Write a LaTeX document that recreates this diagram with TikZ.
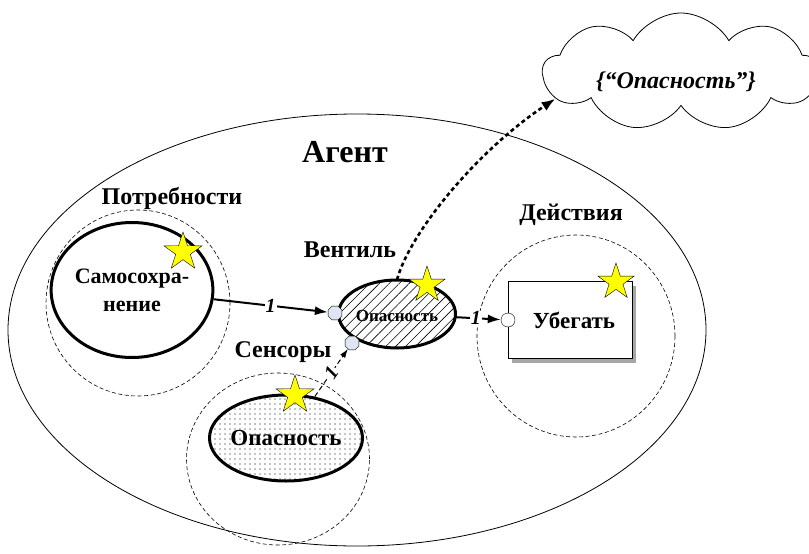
\documentclass[tikz,border=0pt]{standalone}
\usepackage{fontspec}
\setmainfont{Liberation Serif}
\usetikzlibrary{arrows.meta,positioning,shapes.geometric,shapes.symbols,patterns.meta,shadows}
\definecolor{portfill}{RGB}{222,230,242}
\definecolor{starfill}{RGB}{255,255,0}
\tikzset{
  agent/.style={ellipse,draw,line width=0.8pt,minimum width=698pt,minimum height=432pt},
  zone/.style={ellipse,draw,line width=0.6pt,dash pattern=on 4pt off 2.5pt,inner sep=0pt},
  elem/.style={ellipse,draw,line width=3pt,align=center,inner sep=0pt,
    font=\bfseries\fontsize{22}{28}\selectfont},
  lbl/.style={font=\bfseries\fontsize{24}{28}\selectfont},
  starmark/.style={star,star points=5,star point ratio=2.6,draw,fill=starfill,
    minimum size=40pt,inner sep=0pt},
  port/.style={regular polygon,regular polygon sides=8,draw,fill=portfill,
    minimum size=15pt,inner sep=0pt},
  arr/.style={-{Latex[length=13pt,width=9pt]},line width=2pt},
  num/.style={font=\bfseries\itshape\fontsize{20}{24}\selectfont,fill=white,inner sep=1pt},
}

\begin{document}
\begin{tikzpicture}[x=1pt,y=-1pt]
  \useasboundingbox (0,0) rectangle (809,554);
  % agent and its parts
  \node[agent] (agent) at (357,330) {};
  \node[lbl] (agentlbl) at (345,152) {\fontsize{32}{36}\selectfont Агент};
  \node[zone,minimum width=184pt,minimum height=186pt] (needs) at (138,303) {};
  \node[zone,minimum width=183pt,minimum height=172pt] (senses) at (278,459) {};
  \node[zone,minimum width=198pt,minimum height=202pt] (acts) at (576,336) {};
  \node[lbl] (needslbl) at (172,198) {Потребности};
  \node[lbl] (gatelbl) at (350,250) {Вентиль};
  \node[lbl] (senseslbl) at (283,352) {Сенсоры};
  \node[lbl] (actslbl) at (571,215) {Действия};
  % elements
  \node[elem,minimum width=150pt,minimum height=135pt] (self) at (132,290)
    {Самосохра-\\нение};
  \node[elem,minimum width=153pt,minimum height=86pt,
    pattern={Dots[distance=5pt,radius=0.6pt]}] (danger) at (286,438) {};
  \node[lbl,font=\bfseries\fontsize{23}{28}\selectfont] at (danger) {Опасность};
  \node[elem,minimum width=117pt,minimum height=68pt,
    pattern={Lines[angle=45,distance=7pt,line width=0.6pt]}] (gate) at (397,314) {};
  \node[font=\bfseries\fontsize{17}{20}\selectfont] at ([yshift=-2pt]gate.center) {Опасность};
  \node[draw,fill=white,line width=0.8pt,minimum width=124pt,minimum height=77pt,
    lbl,font=\bfseries\fontsize{23}{28}\selectfont,
    drop shadow={shadow xshift=4pt,shadow yshift=-4pt,fill=gray!70,opacity=1}]
    (run) at (570,320) {\hspace*{8pt}Убегать};
  \node[cloud,cloud puffs=9,cloud puff arc=120,aspect=2.3,draw,line width=0.8pt,
    minimum width=276pt,minimum height=118pt] (memo) at (681,72) {};
  \node[font=\bfseries\itshape\fontsize{24}{28}\selectfont] (memotxt) at (676,82)
    {\{“Опасность”\}};
  % ports
  \node[port] (p1) at (335,313) {};
  \node[port] (p2) at (352,343) {};
  \node[circle,draw,fill=white,minimum size=14pt,inner sep=0pt] (p3) at (508,320) {};
  % links
  \draw[arr] (self) -- node[num] {1} (p1);
  \draw[-{Latex[length=9pt,width=6pt]},line width=1pt,dash pattern=on 5pt off 3pt]
    (danger) -- node[num,sloped] {1} (p2);
  \draw[arr] (gate) -- node[num,pos=0.45] {1} (p3);
  \draw[-{Latex[length=14pt,width=10pt]},line width=2.6pt,dash pattern=on 4pt off 3pt]
    (gate.north) .. controls (410,232) and (478,150) .. (memo.192);
  % stars
  \node[starmark] (s1) at (183,252) {};
  \node[starmark,minimum size=38pt] (s2) at (427,285) {};
  \node[starmark] (s3) at (295,395) {};
  \node[starmark,minimum size=38pt] (s4) at (616,282) {};
\end{tikzpicture}
\end{document}
